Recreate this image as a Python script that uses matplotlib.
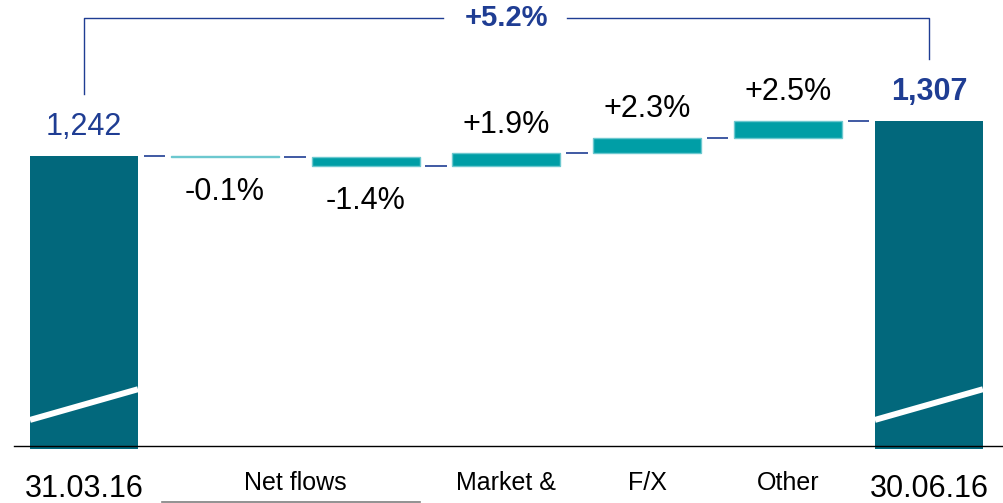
import matplotlib
matplotlib.use('Agg')
import matplotlib.pyplot as plt
import matplotlib.transforms as mtransforms
import numpy as np

# ------------------------------------------------------------
# Data (AuM bridge, EUR bn)
# ------------------------------------------------------------
start_value = 1242
end_value = 1307
start_label = '31.03.16'
end_label = '30.06.16'
change_pct = [-0.1, -1.4, 1.9, 2.3, 2.5]
change_labels = ['-0.1%', '-1.4%', '+1.9%', '+2.3%', '+2.5%']
total_change_label = '+5.2%'
group_labels = ['Net flows', 'Market &', 'F/X', 'Other']
group_slots = [1.5, 3, 4, 5]

# Style
DARK = '#02687c'
CYAN = '#009ea6'
CYAN_EDGE = '#6cc8cf'
BLUE = '#1f3d93'

plt.rcParams['font.family'] = ['Liberation Sans', 'DejaVu Sans']

fig = plt.figure(figsize=(10.04, 5.03), dpi=100)
ax = fig.add_axes([0, 54 / 503, 1, 449 / 503])
ax.set_xlim(-0.5965, 6.533)
ax.set_ylim(698, 1531.7)
ax.axis('off')

w = 0.767
gap = 0.04
n = len(change_pct)
deltas = [p / 100 * start_value for p in change_pct]
levels = list(start_value + np.cumsum([0] + deltas))
end_x = n + 1

# totals (bars start at 0; lower part cut by the axis break)
ax.bar([0, end_x], [start_value, end_value], width=w, color=DARK)

# change bars
for i, d in enumerate(deltas):
    lo = min(levels[i], levels[i + 1])
    ax.bar(i + 1, abs(d), bottom=lo, width=w, color=CYAN,
           edgecolor=CYAN_EDGE, linewidth=1)

# connectors between bars
conn_levels = levels[:-1] + [end_value]
for i, lv in enumerate(conn_levels):
    ax.plot([i + w / 2 + gap, i + 1 - w / 2 - gap], [lv, lv],
            color=BLUE, lw=1.2, solid_capstyle='butt')

# axis break marks
for x in [0, end_x]:
    ax.plot([x - w / 2, x + w / 2], [752, 809], color='white', lw=4.3,
            solid_capstyle='butt')

# baseline
ax.axhline(703.6, xmin=14 / 1004, color='black', lw=1)

# value labels
ax.annotate(f'{start_value:,}', (0, start_value), xytext=(0, 15),
            textcoords='offset points', ha='center', va='baseline',
            fontsize=22, color=BLUE)
ax.annotate(f'{end_value:,}', (end_x, end_value), xytext=(0, 15),
            textcoords='offset points', ha='center', va='baseline',
            fontsize=22, color=BLUE, fontweight='bold')

for i, (d, lab) in enumerate(zip(deltas, change_labels)):
    top = max(levels[i], levels[i + 1])
    bot = min(levels[i], levels[i + 1])
    if d >= 0:
        ax.annotate(lab, (i + 1, top), xytext=(0, 15), textcoords='offset points',
                    ha='center', va='baseline', fontsize=22, color='black')
    else:
        ax.annotate(lab, (i + 1, bot), xytext=(0, -31), textcoords='offset points',
                    ha='center', va='baseline', fontsize=22, color='black')

# total change bracket
top_y = 1498
ax.plot([0, 0, 3 - 0.45], [1357, top_y, top_y], color=BLUE, lw=1)
ax.plot([3 + 0.43, end_x, end_x], [top_y, top_y, 1422], color=BLUE, lw=1)
ax.text(3, top_y, total_change_label, ha='center', va='center',
        fontsize=21, fontweight='bold', color=BLUE)

# category labels below the axis
px = 72 / 100
for x, lab in [(0, start_label), (end_x, end_label)]:
    ax.annotate(lab, (x, 0), xycoords=('data', 'axes fraction'),
                xytext=(0, -48 * px), textcoords='offset points',
                ha='center', va='baseline', fontsize=22, color='black')
for x, lab in zip(group_slots, group_labels):
    ax.annotate(lab, (x, 0), xycoords=('data', 'axes fraction'),
                xytext=(0, -41 * px), textcoords='offset points',
                ha='center', va='baseline', fontsize=18, color='black')

# underline under the net flows group
trans = mtransforms.blended_transform_factory(ax.transData, fig.transFigure)
ax.plot([1 - w / 2 - 0.06, 2 + w / 2], [1.5 / 503, 1.5 / 503], color='#7f7f7f',
        lw=1.2, transform=trans, clip_on=False)

fig.savefig('out.png', dpi=100)
